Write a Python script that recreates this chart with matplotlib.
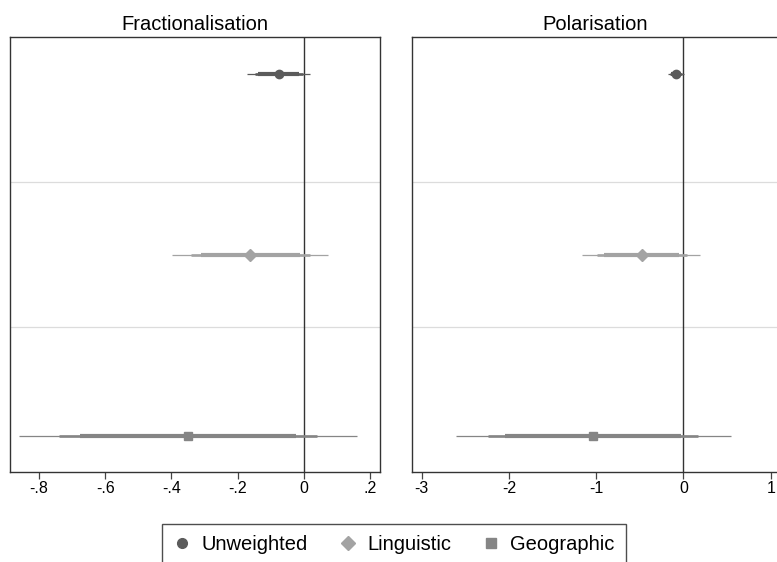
import matplotlib
matplotlib.use("Agg")
import matplotlib.pyplot as plt
from matplotlib.lines import Line2D

plt.rcParams['font.family'] = ['Liberation Sans', 'DejaVu Sans']

# series (top to bottom)
series = ["Unweighted", "Linguistic", "Geographic"]
colors = ["#5b5b5b", "#a3a3a3", "#858585"]
markers = ["o", "D", "s"]

# Fractionalisation: estimate and 99 / 95 / 90 intervals
frac_est = [-0.076, -0.163, -0.350]
frac_ci99 = [(-0.171, 0.019), (-0.398, 0.073), (-0.861, 0.160)]
frac_ci95 = [(-0.149, -0.003), (-0.342, 0.018), (-0.739, 0.039)]
frac_ci90 = [(-0.137, -0.015), (-0.312, -0.012), (-0.676, -0.024)]

# Polarisation
pol_est = [-0.088, -0.480, -1.036]
pol_ci99 = [(-0.180, 0.004), (-1.160, 0.195), (-2.610, 0.540)]
pol_ci95 = [(-0.157, -0.019), (-0.996, 0.036), (-2.235, 0.165)]
pol_ci90 = [(-0.146, -0.030), (-0.913, -0.047), (-2.040, -0.030)]

frac_ticks = [-0.8, -0.6, -0.4, -0.2, 0, 0.2]
frac_labels = ["-.8", "-.6", "-.4", "-.2", "0", ".2"]
pol_ticks = [-3, -2, -1, 0, 1]
pol_labels = ["-3", "-2", "-1", "0", "1"]

fig = plt.figure(figsize=(7.77, 5.62), dpi=100)
ax1 = fig.add_axes([10 / 777, 90.3 / 562, 370 / 777, 434.4 / 562])
ax2 = fig.add_axes([411.7 / 777, 90.3 / 562, 366 / 777, 434.4 / 562])


def draw_panel(ax, title, est, ci99, ci95, ci90, ticks, labels, xlim):
    ypos = [1, 2, 3]
    for sep in [1.6, 2.4]:
        ax.axhline(sep, color="#dcdcdc", lw=0.9, zorder=0)
    ax.axvline(0, color="#333333", lw=1.0, zorder=1)
    for i, y in enumerate(ypos):
        c = colors[i]
        ax.plot(ci99[i], [y, y], color=c, lw=0.9, solid_capstyle="butt", zorder=2)
        ax.plot(ci95[i], [y, y], color=c, lw=1.9, solid_capstyle="butt", zorder=3)
        ax.plot(ci90[i], [y, y], color=c, lw=3.0, solid_capstyle="butt", zorder=4)
        ms = 6.2 if markers[i] == "D" else 6.0
        ax.plot([est[i]], [y], marker=markers[i], color=c, ms=ms, mec=c, ls="none", zorder=5)
    ax.set_ylim(3.2, 0.8)
    ax.set_xlim(*xlim)
    ax.set_yticks([])
    ax.set_xticks(ticks)
    ax.set_xticklabels(labels, fontsize=11.5)
    ax.tick_params(axis="x", length=5, width=0.9, color="#444444", pad=2)
    for sp in ax.spines.values():
        sp.set_color("#333333")
        sp.set_linewidth(1.0)
    ax.set_title(title, fontsize=14.5, pad=5.5)


draw_panel(ax1, "Fractionalisation", frac_est, frac_ci99, frac_ci95, frac_ci90,
           frac_ticks, frac_labels, (-0.8876, 0.230))
draw_panel(ax2, "Polarisation", pol_est, pol_ci99, pol_ci95, pol_ci90,
           pol_ticks, pol_labels, (-3.115, 1.08))

handles = [Line2D([], [], marker=m, color=c, ls="none", ms=7) for m, c in zip(markers, colors)]
leg = fig.legend(handles, series, loc="upper center", bbox_to_anchor=(394 / 777, 38 / 562),
                 ncol=3, fontsize=14.5, frameon=True, fancybox=False, edgecolor="#222222",
                 handlelength=0.9, handletextpad=0.5, columnspacing=1.55, borderpad=0.55,
                 borderaxespad=0)
leg.get_frame().set_linewidth(1.0)

plt.savefig("out.png", dpi=100)
